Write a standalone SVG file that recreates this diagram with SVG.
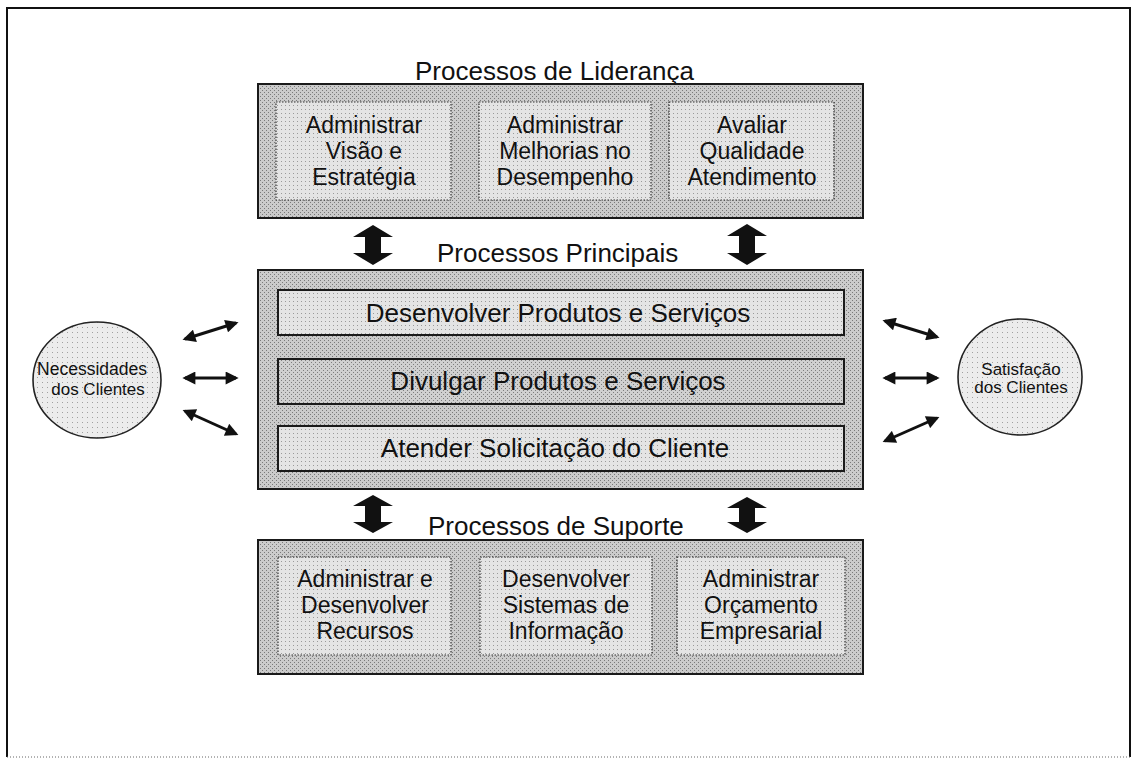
<svg xmlns="http://www.w3.org/2000/svg" width="1137" height="759" viewBox="0 0 1137 759">
  <style>
    text { font-family: "Liberation Sans", Arial, sans-serif; fill: #111; text-anchor: middle; }
    .hdr { font-size: 26px; text-anchor: start; }
    .bar-t { font-size: 26px; }
    .box-t { font-size: 23px; }
    .circ-t { font-size: 17px; }
    .container { fill: url(#stipple-mid); stroke: #1a1a1a; stroke-width: 2; }
    .box { fill: url(#stipple-light); stroke: #333; stroke-width: 1.2; stroke-dasharray: 1.5 1.5; }
    .bar { stroke: #1a1a1a; stroke-width: 2; }
    .bar-light { fill: url(#stipple-light); }
    .bar-dark { fill: url(#stipple-bar); }
    .client { fill: url(#stipple-pale); stroke: #222; stroke-width: 1.6; }
    .thin-arrow { stroke: #111; stroke-width: 3; fill: none; marker-start: url(#head); marker-end: url(#head); }
    .thick-arrow { fill: #111; }
  </style>
  <defs>
    <marker id="head" viewBox="0 0 10 10" refX="8" refY="5" markerWidth="15" markerHeight="13" markerUnits="userSpaceOnUse" orient="auto-start-reverse">
      <path d="M0,0 L10,5 L0,10 Z" fill="#111"/>
    </marker>
    <!-- halftone-like fills -->
    <pattern id="stipple-mid" width="4" height="4" patternUnits="userSpaceOnUse">
      <rect width="4" height="4" fill="#cbcbcb"/>
      <rect x="0" y="0" width="1" height="1" fill="#7a7a7a"/>
      <rect x="2" y="2" width="1" height="1" fill="#7a7a7a"/>
    </pattern>
    <pattern id="stipple-bar" width="4" height="4" patternUnits="userSpaceOnUse">
      <rect width="4" height="4" fill="#d0d0d0"/>
      <rect x="1" y="0" width="1" height="1" fill="#7e7e7e"/>
      <rect x="3" y="2" width="1" height="1" fill="#7e7e7e"/>
    </pattern>
    <pattern id="stipple-light" width="4" height="4" patternUnits="userSpaceOnUse">
      <rect width="4" height="4" fill="#e4e4e4"/>
      <rect x="1" y="1" width="1" height="1" fill="#9a9a9a"/>
    </pattern>
    <pattern id="stipple-pale" width="5" height="5" patternUnits="userSpaceOnUse">
      <rect width="5" height="5" fill="#ececec"/>
      <rect x="2" y="2" width="1" height="1" fill="#a0a0a0"/>
    </pattern>
  </defs>

  <rect width="1137" height="759" fill="#ffffff"/>

  <!-- page frame -->
  <path d="M7,757 L7,8 L1130,8 L1130,757" fill="none" stroke="#111" stroke-width="2"/>
  <line x1="7" y1="757" x2="1130" y2="757" stroke="#666" stroke-width="1" stroke-dasharray="1 2"/>

  <!-- leadership processes -->
  <g id="lideranca">
    <text class="hdr" x="415" y="80">Processos de Liderança</text>
    <rect class="container" x="258" y="84" width="605" height="134"/>
    <g id="lid-visao">
      <rect class="box" x="276" y="102" width="175" height="98"/>
      <text class="box-t" x="364" y="133">Administrar</text>
      <text class="box-t" x="364" y="159">Visão e</text>
      <text class="box-t" x="364" y="185">Estratégia</text>
    </g>
    <g id="lid-melhorias">
      <rect class="box" x="479" y="102" width="172" height="98"/>
      <text class="box-t" x="565" y="133">Administrar</text>
      <text class="box-t" x="565" y="159">Melhorias no</text>
      <text class="box-t" x="565" y="185">Desempenho</text>
    </g>
    <g id="lid-qualidade">
      <rect class="box" x="669" y="102" width="165" height="98"/>
      <text class="box-t" x="752" y="133">Avaliar</text>
      <text class="box-t" x="752" y="159">Qualidade</text>
      <text class="box-t" x="752" y="185">Atendimento</text>
    </g>
  </g>

  <!-- main processes -->
  <g id="principais">
    <text class="hdr" x="437" y="262">Processos Principais</text>
    <rect class="container" x="258" y="270" width="605" height="219"/>
    <g id="pri-desenvolver">
      <rect class="bar bar-light" x="278" y="290" width="566" height="45"/>
      <text class="bar-t" x="558" y="322">Desenvolver Produtos e Serviços</text>
    </g>
    <g id="pri-divulgar">
      <rect class="bar bar-dark" x="278" y="359" width="566" height="45"/>
      <text class="bar-t" x="558" y="390">Divulgar Produtos e Serviços</text>
    </g>
    <g id="pri-atender">
      <rect class="bar bar-light" x="278" y="426" width="566" height="45"/>
      <text class="bar-t" x="555" y="457">Atender Solicitação do Cliente</text>
    </g>
  </g>

  <!-- support processes -->
  <g id="suporte">
    <text class="hdr" x="428" y="535">Processos de Suporte</text>
    <rect class="container" x="258" y="540" width="605" height="134"/>
    <g id="sup-recursos">
      <rect class="box" x="278" y="557" width="173" height="98"/>
      <text class="box-t" x="365" y="587">Administrar e</text>
      <text class="box-t" x="365" y="613">Desenvolver</text>
      <text class="box-t" x="365" y="639">Recursos</text>
    </g>
    <g id="sup-sistemas">
      <rect class="box" x="480" y="557" width="172" height="98"/>
      <text class="box-t" x="566" y="587">Desenvolver</text>
      <text class="box-t" x="566" y="613">Sistemas de</text>
      <text class="box-t" x="566" y="639">Informação</text>
    </g>
    <g id="sup-orcamento">
      <rect class="box" x="677" y="557" width="168" height="98"/>
      <text class="box-t" x="761" y="587">Administrar</text>
      <text class="box-t" x="761" y="613">Orçamento</text>
      <text class="box-t" x="761" y="639">Empresarial</text>
    </g>
  </g>

  <!-- customer needs -->
  <g id="necessidades">
    <ellipse class="client" cx="97" cy="380" rx="64" ry="58"/>
    <text class="circ-t" x="92" y="375" style="font-size:17.5px">Necessidades</text>
    <text class="circ-t" x="98" y="395">dos Clientes</text>
  </g>

  <!-- customer satisfaction -->
  <g id="satisfacao">
    <ellipse class="client" cx="1020" cy="377" rx="62" ry="58"/>
    <text class="circ-t" x="1021" y="375">Satisfação</text>
    <text class="circ-t" x="1021" y="393">dos Clientes</text>
  </g>

  <!-- connectors -->
  <g id="connectors">
    <line class="thin-arrow" x1="185" y1="339" x2="236" y2="323"/>
    <line class="thin-arrow" x1="185" y1="378" x2="236" y2="378"/>
    <line class="thin-arrow" x1="185" y1="411" x2="236" y2="434"/>
    <line class="thin-arrow" x1="885" y1="321" x2="937" y2="337"/>
    <line class="thin-arrow" x1="885" y1="378" x2="937" y2="378"/>
    <line class="thin-arrow" x1="885" y1="441" x2="937" y2="418"/>

    <polygon class="thick-arrow" points="373,225 393,237 381,237 381,253 393,253 373,265 353,253 365,253 365,237 353,237"/>
    <polygon class="thick-arrow" points="747,224 767,236 755,236 755,253 767,253 747,265 727,253 739,253 739,236 727,236"/>
    <polygon class="thick-arrow" points="373,495 393,506 381,506 381,522 393,522 373,533 353,522 365,522 365,506 353,506"/>
    <polygon class="thick-arrow" points="747,497 767,508 755,508 755,522 767,522 747,533 727,522 739,522 739,508 727,508"/>
  </g>
</svg>
